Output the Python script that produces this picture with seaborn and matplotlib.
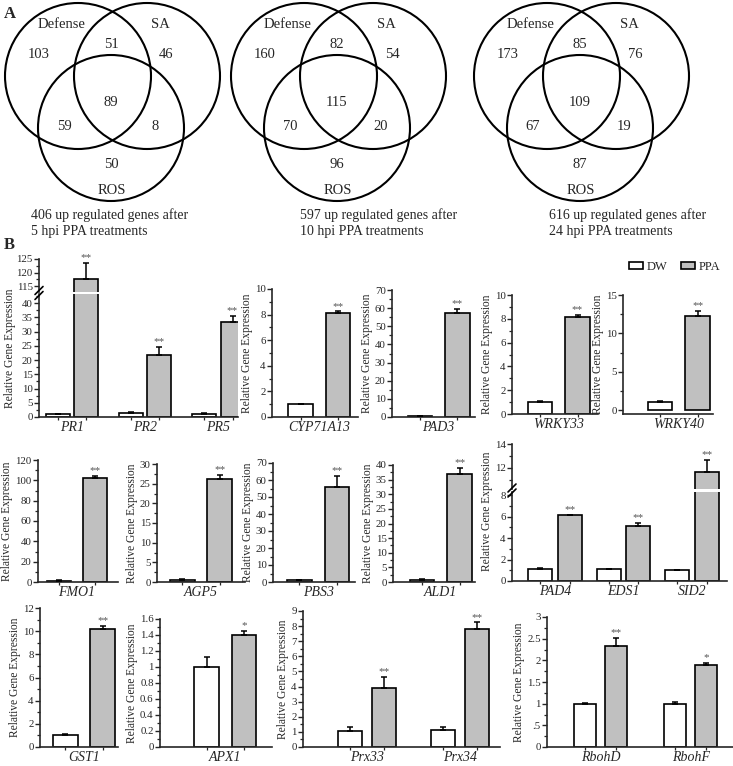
import matplotlib
matplotlib.use("Agg")
import matplotlib.pyplot as plt
from matplotlib.patches import Circle
from matplotlib.ticker import MultipleLocator, FuncFormatter
import numpy as np
import pandas as pd
import seaborn as sns

# ---- panel A: venn counts (Defense only, Defense&SA, SA only, all, Defense&ROS, SA&ROS, ROS only)
venn_5h = [103, 51, 46, 89, 59, 8, 50]
venn_10h = [160, 82, 54, 115, 70, 20, 96]
venn_24h = [173, 85, 76, 109, 67, 19, 87]
venn_totals = [406, 597, 616]
venn_hpi = [5, 10, 24]

# ---- panel B: relative expression (DW vs PPA)
genes = ["PR1", "PR2", "PR5", "CYP71A13", "PAD3", "WRKY33", "WRKY40",
         "FMO1", "AGP5", "PBS3", "ALD1", "PAD4", "EDS1", "SID2",
         "GST1", "APX1", "Prx33", "Prx34", "RbohD", "RbohF"]
dw_mean = [1.1, 1.3, 1.2, 1.0, 0.5, 1.05, 1.1,
           1.0, 0.6, 1.0, 0.6, 1.15, 1.1, 1.0,
           1.0, 1.0, 1.05, 1.1, 1.0, 1.0]
dw_err = [0.1, 0.3, 0.1, 0.02, 0.2, 0.02, 0.15,
          0.5, 0.2, 0.3, 0.3, 0.02, 0.02, 0.02,
          0.1, 0.13, 0.3, 0.25, 0.01, 0.05]
ppa_mean = [117.5, 21.8, 33.4, 8.15, 57.3, 8.15, 12.2,
            102, 26.1, 55.6, 37.0, 6.1, 5.1, 11.65,
            10.15, 1.4, 3.9, 7.8, 2.33, 1.9]
ppa_err = [6.1, 2.9, 2.1, 0.1, 2.5, 0.15, 0.7,
           2.5, 1.1, 7.0, 2.0, 0.05, 0.3, 1.0,
           0.3, 0.05, 0.75, 0.45, 0.18, 0.05]
signif = ["**", "**", "**", "**", "**", "**", "**",
          "**", "**", "**", "**", "**", "**", "**",
          "**", "*", "**", "**", "**", "*"]

n = len(genes)
df = pd.DataFrame({
    "gene": genes * 2,
    "treatment": ["DW"] * n + ["PPA"] * n,
    "value": dw_mean + ppa_mean,
    "err": dw_err + ppa_err,
    "sig": [""] * n + signif,
})

sns.set_style("ticks")
plt.rcParams["font.family"] = ["Liberation Serif", "DejaVu Serif"]
plt.rcParams["axes.linewidth"] = 1.2
colors = {"DW": "white", "PPA": "#c0c0c0"}
hue_order = ["DW", "PPA"]

W, H = 733, 766
fig = plt.figure(figsize=(W / 100, H / 100), dpi=100)


def add_px(x0, x1, ytop, ybot):
    ax = fig.add_axes([x0 / W, 1 - ybot / H, (x1 - x0) / W, (ybot - ytop) / H])
    ax.patch.set_alpha(0)
    return ax


def fmt_for(strip0):
    def f(v, pos):
        s = f"{v:g}"
        if strip0 and s.startswith("0."):
            s = s[1:]
        return s
    return FuncFormatter(f)


def draw_bars(ax, order, width, gap, ylim, legend=False):
    sub = df[df.gene.isin(order)]
    sns.barplot(data=sub, x="gene", y="value", hue="treatment", order=order,
                hue_order=hue_order, palette=colors, width=width, gap=gap,
                edgecolor="black", linewidth=1.2, errorbar=None, legend=legend, ax=ax)
    centers = []
    for i, g in enumerate(order):
        for j, trt in enumerate(hue_order):
            cx = i + (j - 0.5) * width / 2
            row = sub[(sub.gene == g) & (sub.treatment == trt)].iloc[0]
            centers.append(cx)
            ax.errorbar(cx, row.value, yerr=[[0], [row.err]], fmt="none", ecolor="black",
                        elinewidth=1.1, capsize=2.5, capthick=1.1, zorder=5)
            top = row.value + row.err
            if row.sig and ylim[0] <= top <= ylim[1]:
                ax.annotate(row.sig, (cx, top), xytext=(0, 0.5), textcoords="offset points",
                            ha="center", va="bottom", fontsize=8, color="#555555")
    return centers


def style_axes(ax, ylim, major, minor, xlim, strip0=False):
    ax.set_xlim(xlim)
    ax.set_ylim(ylim)
    ax.yaxis.set_major_locator(MultipleLocator(major))
    ax.yaxis.set_minor_locator(MultipleLocator(minor))
    ax.yaxis.set_major_formatter(fmt_for(strip0))
    sns.despine(ax=ax)
    ax.tick_params(axis="y", which="major", length=3.5, width=1.0, labelsize=7.8, pad=1)
    ax.tick_params(axis="y", which="minor", length=2, width=0.9)
    ax.tick_params(axis="x", which="major", length=0, labelsize=10, pad=3)
    ax.tick_params(axis="x", which="minor", length=2.5, width=0.9)
    ax.set_xlabel("")


def bottom_labels(ax, order, centers, labelpad=1.5):
    ax.set_xticks(centers, minor=True)
    ax.set_xticks(range(len(order)))
    ax.set_xticklabels(order, fontstyle="italic", fontsize=10)
    ax.set_ylabel("Relative Gene Expression", fontsize=8.3, labelpad=labelpad)


panels = [
    dict(genes=["CYP71A13"], box=(272, 358, 289, 417), ylim=(0, 10), major=2, minor=1,
         xlim=(-0.555, 0.455), width=0.88, gap=0.34),
    dict(genes=["PAD3"], box=(392, 475, 290, 417), ylim=(0, 70), major=10, minor=5,
         xlim=(-0.55, 0.43), width=0.88, gap=0.34),
    dict(genes=["WRKY33"], box=(512, 598, 295, 414), ylim=(0, 10), major=2, minor=1,
         xlim=(-0.55, 0.46), width=0.88, gap=0.34),
    dict(genes=["WRKY40"], box=(623, 713, 295, 414), ylim=(-0.5, 15), major=5, minor=2.5,
         xlim=(-0.655, 0.40), width=0.88, gap=0.34, legend=True),
    dict(genes=["FMO1"], box=(38, 118, 460, 582), ylim=(0, 120), major=20, minor=10,
         xlim=(-0.47, 0.5), width=0.88, gap=0.34),
    dict(genes=["AGP5"], box=(157, 245, 464, 582), ylim=(0, 30), major=5, minor=2.5,
         xlim=(-0.52, 0.52), width=0.88, gap=0.34),
    dict(genes=["PBS3"], box=(273, 355, 463, 582), ylim=(0, 70), major=10, minor=5,
         xlim=(-0.53, 0.43), width=0.88, gap=0.34),
    dict(genes=["ALD1"], box=(393, 475, 465, 582), ylim=(0, 40), major=5, minor=2.5,
         xlim=(-0.56, 0.40), width=0.88, gap=0.34),
    dict(genes=["GST1"], box=(40, 118, 608, 747), ylim=(0, 12), major=2, minor=1,
         xlim=(-0.52, 0.40), width=0.88, gap=0.34),
    dict(genes=["APX1"], box=(160, 272, 619, 747), ylim=(0, 1.6), major=0.2, minor=0.1,
         xlim=(-0.77, 0.55), width=0.88, gap=0.34),
    dict(genes=["Prx33", "Prx34"], box=(303, 500, 611, 747), ylim=(0, 9), major=1, minor=0.5,
         xlim=(-0.69, 1.43), width=0.73, gap=0.29),
    dict(genes=["RbohD", "RbohF"], box=(547, 733, 617, 747), ylim=(0, 3), major=0.5, minor=0.25,
         xlim=(-0.6, 1.47), width=0.69, gap=0.29, strip0=True),
]

for p in panels:
    ax = add_px(*p["box"])
    c = draw_bars(ax, p["genes"], p["width"], p["gap"], p["ylim"], legend=p.get("legend", False))
    style_axes(ax, p["ylim"], p["major"], p["minor"], p["xlim"], p.get("strip0", False))
    bottom_labels(ax, p["genes"], c)
    if p.get("legend"):
        sns.move_legend(ax, "center left", bbox_to_anchor=(-0.06, 1.235), ncol=2,
                        frameon=False, title=None, fontsize=9, handlelength=1.1,
                        handleheight=0.55, handletextpad=0.3, columnspacing=1.1)

# broken-axis panels
broken = [
    dict(genes=["PR1", "PR2", "PR5"], x=(39, 238), up=(259, 292), low=(294, 417),
         up_ylim=(112.8, 125), low_ylim=(0, 43.2), up_major=5, low_major=5, minor_up=2.5,
         minor_low=2.5, xlim=(-0.45, 2.27), width=0.78, gap=0.16, label_y=0.56, labelpad=4.5),
    dict(genes=["PAD4", "EDS1", "SID2"], x=(512, 727), up=(444, 489), low=(492, 581),
         up_ylim=(10.2, 14), low_ylim=(0, 8.28), up_major=2, low_major=2, minor_up=1,
         minor_low=1, xlim=(-0.63, 2.51), width=0.86, gap=0.19, label_y=0.78, labelpad=5),
]

slash_marks = []
for p in broken:
    ax_u = add_px(p["x"][0], p["x"][1], *p["up"])
    draw_bars(ax_u, p["genes"], p["width"], p["gap"], p["up_ylim"])
    style_axes(ax_u, p["up_ylim"], p["up_major"], p["minor_up"], p["xlim"])
    ax_u.spines["bottom"].set_visible(False)
    ax_u.tick_params(axis="x", which="both", bottom=False, labelbottom=False)
    ax_u.set_ylabel("")

    ax_l = add_px(p["x"][0], p["x"][1], *p["low"])
    c = draw_bars(ax_l, p["genes"], p["width"], p["gap"], p["low_ylim"])
    style_axes(ax_l, p["low_ylim"], p["low_major"], p["minor_low"], p["xlim"])
    bottom_labels(ax_l, p["genes"], c, labelpad=p["labelpad"])
    ax_l.yaxis.label.set_y(p["label_y"])
    slash_marks.append((p["x"][0], (p["up"][1] + p["low"][0]) / 2))

# overlay in pixel coordinates: venn diagrams, captions, panel letters
ov = fig.add_axes([0, 0, 1, 1])
ov.set_xlim(0, W)
ov.set_ylim(H, 0)
ov.axis("off")
ov.set_zorder(10)

circle_xy = [(78, 76), (147, 76), (111, 128)]
count_xy = [(39, 54), (111, 44), (166, 54), (111, 103), (64, 126), (155, 126), (111, 164)]
venn_off = [0, 226, 469]
caption_x = [31, 300, 549]
for off, counts, total, hpi, cap_x in zip(venn_off, [venn_5h, venn_10h, venn_24h],
                                           venn_totals, venn_hpi, caption_x):
    for cx, cy in circle_xy:
        ov.add_patch(Circle((cx + off, cy), 73, fill=False, ec="black", lw=1.5))
    for (tx, ty), v in zip(count_xy, counts):
        ov.text(tx + off, ty, str(v), ha="center", va="center", fontsize=10.5)
    ov.text(62 + off, 25, "Defense", ha="center", va="center", fontsize=10.5)
    ov.text(160 + off, 25, "SA", ha="center", va="center", fontsize=10.5)
    ov.text(112 + off, 190, "ROS", ha="center", va="center", fontsize=10.5)
    ov.text(cap_x, 215, f"{total} up regulated genes after", ha="left", va="center", fontsize=10)
    ov.text(cap_x, 231, f"{hpi} hpi PPA treatments", ha="left", va="center", fontsize=10)

ov.text(4, 14, "A", ha="left", va="center", fontsize=12, fontweight="bold")
ov.text(4, 245, "B", ha="left", va="center", fontsize=12, fontweight="bold")

for sx, sy in slash_marks:
    for d in (-2.5, 2.5):
        ov.plot([sx - 4, sx + 4], [sy + 4 + d, sy - 4 + d], color="black", lw=1.2)

fig.savefig("out.png", dpi=100)
